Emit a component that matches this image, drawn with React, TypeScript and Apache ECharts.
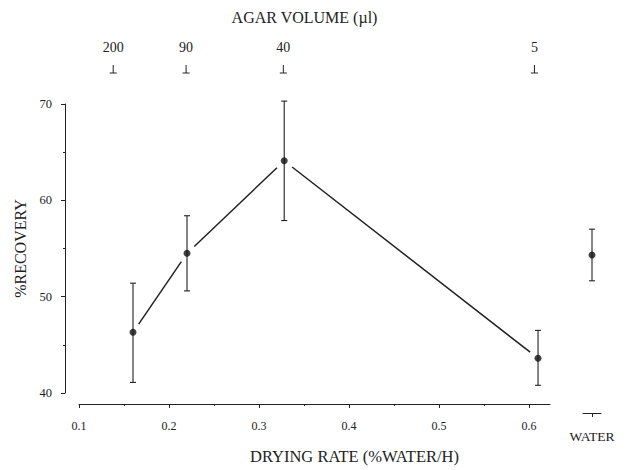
import React, { useEffect, useRef } from "react";
import * as echarts from "echarts";

const dryingRate = [0.16, 0.22, 0.328, 0.61];
const recovery = [46.3, 54.5, 64.1, 43.6];
const errLow = [41.1, 50.6, 57.9, 40.8];
const errHigh = [51.4, 58.4, 70.3, 46.5];

const waterCategory = ["WATER"];
const waterRecovery = [54.8];
const waterLow = [52.2];
const waterHigh = [57.4];

const agarVolumes = ["200", "90", "40", "5"];
const agarPositions = [0.138, 0.219, 0.327, 0.606];

const xMajorTicks = [0.1, 0.2, 0.3, 0.4, 0.5, 0.6];
const xMinorTicks = [0.15, 0.25, 0.35, 0.45, 0.55];
const xMin = 0.1;
const xMax = 0.6233;
const yMin = 40;
const yMax = 70;

const FONT = "Liberation Serif";
const INK = "#222";

export default function App() {
  const ref = useRef<HTMLDivElement>(null);

  useEffect(() => {
    if (!ref.current) return;
    const chart = echarts.init(ref.current, null, { renderer: "svg" });

    const errorBarItem = (params: any, api: any) => {
      const x = api.value(0);
      const lo = api.value(1);
      const hi = api.value(2);
      const pLo = api.coord([x, lo]);
      const pHi = api.coord([x, hi]);
      const cap = 3;
      const style = { stroke: INK, lineWidth: 1.1 };
      return {
        type: "group",
        children: [
          { type: "line", shape: { x1: pLo[0], y1: pLo[1], x2: pHi[0], y2: pHi[1] }, style },
          { type: "line", shape: { x1: pLo[0] - cap, y1: pLo[1], x2: pLo[0] + cap, y2: pLo[1] }, style },
          { type: "line", shape: { x1: pHi[0] - cap, y1: pHi[1], x2: pHi[0] + cap, y2: pHi[1] }, style },
        ],
      };
    };

    const gap = 10;
    const segmentItem = (params: any, api: any) => {
      const i = params.dataIndex;
      if (i >= dryingRate.length - 1) return null;
      const a = api.coord([dryingRate[i], recovery[i]]);
      const b = api.coord([dryingRate[i + 1], recovery[i + 1]]);
      const dx = b[0] - a[0];
      const dy = b[1] - a[1];
      const len = Math.sqrt(dx * dx + dy * dy);
      const ux = dx / len;
      const uy = dy / len;
      return {
        type: "line",
        shape: {
          x1: a[0] + ux * gap,
          y1: a[1] + uy * gap,
          x2: b[0] - ux * gap,
          y2: b[1] - uy * gap,
        },
        style: { stroke: INK, lineWidth: 1.5 },
      };
    };

    const agarTickItem = (params: any, api: any) => {
      const p = api.coord([api.value(0), yMax]);
      const baseY = p[1] - 31;
      const style = { stroke: INK, lineWidth: 1 };
      return {
        type: "group",
        children: [
          { type: "line", shape: { x1: p[0], y1: baseY - 8, x2: p[0], y2: baseY }, style },
          { type: "line", shape: { x1: p[0] - 3.5, y1: baseY, x2: p[0] + 3.5, y2: baseY }, style },
        ],
      };
    };

    const textStyle = { fontFamily: FONT, color: INK };

    chart.setOption({
      animation: false,
      backgroundColor: "#fff",
      grid: [
        { left: 79, top: 104, width: 471, height: 298 },
        { left: 583, top: 104, width: 18, height: 298 },
      ],
      xAxis: [
        {
          gridIndex: 0,
          type: "value",
          min: xMin,
          max: xMax,
          position: "bottom",
          offset: 11,
          axisLine: { show: true, lineStyle: { color: INK, width: 1 } },
          axisTick: { show: true, customValues: xMajorTicks, length: 4, lineStyle: { color: INK } },
          axisLabel: {
            customValues: xMajorTicks,
            margin: 16,
            fontSize: 12,
            ...textStyle,
            formatter: (v: number) => v.toFixed(1),
          },
          splitLine: { show: false },
          name: "DRYING RATE (%WATER/H)",
          nameLocation: "middle",
          nameGap: 44,
          nameTextStyle: { fontSize: 16.5, ...textStyle, padding: [0, 0, 0, 80] },
        },
        {
          gridIndex: 0,
          type: "value",
          min: xMin,
          max: xMax,
          position: "bottom",
          offset: 11,
          axisLine: { show: false },
          axisTick: { show: true, customValues: xMinorTicks, length: 2, lineStyle: { color: INK } },
          axisLabel: { show: false },
          splitLine: { show: false },
        },
        {
          gridIndex: 0,
          type: "value",
          min: xMin,
          max: xMax,
          position: "top",
          offset: 31,
          axisLine: { show: false },
          axisTick: { show: false },
          axisLabel: {
            customValues: agarPositions,
            margin: 19,
            fontSize: 14,
            ...textStyle,
            formatter: (v: number) => {
              let best = 0;
              agarPositions.forEach((p, i) => {
                if (Math.abs(p - v) < Math.abs(agarPositions[best] - v)) best = i;
              });
              return agarVolumes[best];
            },
          },
          splitLine: { show: false },
          name: "AGAR VOLUME (µl)",
          nameLocation: "middle",
          nameGap: 48,
          nameTextStyle: { fontSize: 16, ...textStyle, padding: [0, 20, 0, 0] },
        },
        {
          gridIndex: 1,
          type: "category",
          data: waterCategory,
          boundaryGap: true,
          position: "bottom",
          offset: 11,
          axisLine: { show: true, lineStyle: { color: INK, width: 1 } },
          axisTick: { show: true, alignWithLabel: true, length: 4, lineStyle: { color: INK } },
          axisLabel: { margin: 16, fontSize: 13.5, ...textStyle },
          splitLine: { show: false },
        },
      ],
      yAxis: [
        {
          gridIndex: 0,
          type: "value",
          min: yMin,
          max: yMax,
          interval: 10,
          offset: 14,
          axisLine: { show: true, lineStyle: { color: INK, width: 1 } },
          axisTick: { show: true, length: 4, lineStyle: { color: INK } },
          minorTick: { show: true, splitNumber: 2, length: 2, lineStyle: { color: INK } },
          axisLabel: { margin: 13, fontSize: 12.5, ...textStyle },
          splitLine: { show: false },
          minorSplitLine: { show: false },
          name: "%RECOVERY",
          nameLocation: "middle",
          nameGap: 36,
          nameTextStyle: { fontSize: 16, ...textStyle },
        },
        {
          gridIndex: 1,
          type: "value",
          min: yMin,
          max: yMax,
          show: false,
        },
      ],
      series: [
        {
          type: "custom",
          xAxisIndex: 0,
          yAxisIndex: 0,
          renderItem: segmentItem,
          clip: false,
          data: dryingRate.map((x, i) => [x, recovery[i]]),
          z: 2,
        },
        {
          type: "custom",
          xAxisIndex: 0,
          yAxisIndex: 0,
          renderItem: errorBarItem,
          clip: false,
          data: dryingRate.map((x, i) => [x, errLow[i], errHigh[i]]),
          z: 3,
        },
        {
          type: "scatter",
          xAxisIndex: 0,
          yAxisIndex: 0,
          symbol: "circle",
          symbolSize: 7,
          itemStyle: { color: "#111" },
          clip: false,
          data: dryingRate.map((x, i) => [x, recovery[i]]),
          z: 4,
        },
        {
          type: "custom",
          xAxisIndex: 0,
          yAxisIndex: 0,
          renderItem: agarTickItem,
          clip: false,
          data: agarPositions.map((x) => [x]),
        },
        {
          type: "custom",
          xAxisIndex: 3,
          yAxisIndex: 1,
          renderItem: errorBarItem,
          clip: false,
          data: waterCategory.map((c, i) => [i, waterLow[i], waterHigh[i]]),
          z: 3,
        },
        {
          type: "scatter",
          xAxisIndex: 3,
          yAxisIndex: 1,
          symbol: "circle",
          symbolSize: 7,
          itemStyle: { color: "#111" },
          clip: false,
          data: waterCategory.map((c, i) => [i, waterRecovery[i]]),
          z: 4,
        },
      ],
    });

    return () => chart.dispose();
  }, []);

  return (
    <div
      ref={ref}
      style={{ position: "fixed", left: 0, top: 0, width: 631, height: 470, background: "#fff" }}
    />
  );
}
